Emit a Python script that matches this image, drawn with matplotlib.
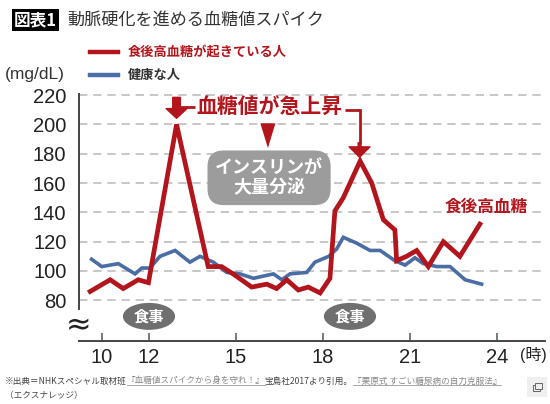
import matplotlib
matplotlib.use('Agg')
import matplotlib.pyplot as plt
from matplotlib.patches import Ellipse, Polygon, Rectangle
from matplotlib.lines import Line2D

plt.rcParams['font.family'] = ['Liberation Sans', 'Noto Sans CJK JP']
JP = ['Noto Sans CJK JP', 'DejaVu Sans']

# 時刻(時)と血糖値(mg/dL)
red_hours = [9.97, 10.66, 11.11, 11.63, 11.98, 12.95, 14.04, 14.5, 14.9, 15.54,
             16.06, 16.4, 16.75, 17.15, 17.49, 17.9, 18.24, 18.41, 18.7, 19.28,
             19.68, 20.08, 20.48, 20.54, 20.88, 21.23, 21.63, 22.15, 22.72, 23.41]
red_values = [86, 94, 88, 94, 92, 200, 103, 103, 98, 89,
              91, 88, 94, 87, 89, 85, 95, 141, 150, 175,
              160, 135, 128, 107, 110, 114, 103, 120, 110, 132]

blue_hours = [10.02, 10.37, 10.94, 11.52, 11.75, 12.03, 12.38, 12.9, 13.41, 13.76,
              14.22, 14.68, 15.14, 15.6, 16.29, 16.58, 16.86, 17.44, 17.72, 18.2,
              18.47, 18.7, 19.16, 19.62, 19.97, 20.48, 20.83, 21.17, 21.46, 21.92,
              22.38, 22.9, 23.47]
blue_values = [108, 103, 105, 98, 102, 102, 110, 114, 106, 110,
               106, 99, 98, 95, 98, 94, 98, 99, 106, 110,
               115, 123, 119, 114, 114, 107, 104, 109, 105, 103,
               103, 94, 91]

x_tick_labels = ['10', '12', '15', '18', '21', '24']
y_ticks = [80, 100, 120, 140, 160, 180, 200, 220]

title_tag = '図表1'
title = '動脈硬化を進める血糖値スパイク'
legend_labels = ['食後高血糖が起きている人', '健康な人']
unit_label = '(mg/dL)'
hour_label = '(時)'
spike_label = '血糖値が急上昇'
insulin_label = 'インスリンが\n大量分泌'
meal_label = '食事'
after_label = '食後高血糖'
foot_parts = [('※出典＝NHKスペシャル取材班', False), ('『血糖値スパイクから身を守れ！』', True),
              ('宝島社2017より引用。', False), ('『栗原式 すごい糖尿病の自力克服法』', True)]
foot_line2 = '（エクスナレッジ）'

RED = '#b3151c'
BLUE = '#4a6da6'
DARK = '#333333'

W, H = 550, 404
fig = plt.figure(figsize=(5.5, 4.04), dpi=100)
ax = fig.add_axes([79 / W, 63 / H, 466 / W, 247.3 / H])

ax.plot(blue_hours, blue_values, color=BLUE, lw=2.6, zorder=3, solid_joinstyle='miter')
ax.plot(red_hours, red_values, color=RED, lw=3.4, zorder=4, solid_joinstyle='miter')

ax.set_xlim(9.586, 25.655)
ax.set_ylim(52.2, 221)

# x tick "10" sits a bit right of its true place in the original
ax.set_xticks([10.38, 12, 15, 18, 21, 24])
ax.set_xticklabels(x_tick_labels)
ax.set_yticks(y_ticks)
ax.tick_params(axis='x', direction='in', length=6, width=1.2, color='#556677',
               pad=5, labelsize=14.5, labelcolor='#222222')
ax.tick_params(axis='y', length=0, pad=9, labelsize=14.5, labelcolor='#222222')
ax.yaxis.grid(True, color='#bdbdbd', lw=1.2, ls=(0, (5, 3.5)))
ax.set_axisbelow(True)
for s in ['top', 'right']:
    ax.spines[s].set_visible(False)
for s in ['left', 'bottom']:
    ax.spines[s].set_color('#444444')
    ax.spines[s].set_linewidth(1.4)

# break mark on y axis
ax.text(0, 63, '≈', transform=ax.get_yaxis_transform(), ha='center', va='center',
        fontsize=22, color='#222222', family='DejaVu Sans', zorder=6,
        bbox=dict(fc='white', ec='none', pad=0.5))

# meal markers
for h in [12, 18.93]:
    ax.add_patch(Ellipse((h, 69), 1.8, 18.4, fc='#6f6f6f', ec='none', zorder=5))
    ax.text(h, 69, meal_label, ha='center', va='center', color='white',
            fontsize=11, weight='bold', family=JP, zorder=6)

# spike annotation
ax.text(16.17, 211.3, spike_label, ha='center', va='center', color=RED,
        fontsize=15, weight='bold', family=JP, zorder=6)
ax.annotate('', xy=(12.95, 204.2), xytext=(12.95, 218.5),
            arrowprops=dict(arrowstyle='simple,head_length=0.7,head_width=1.5,tail_width=0.55',
                            color=RED, shrinkA=0, shrinkB=0), zorder=6)
ax.plot([12.95, 13.6], [211.6, 211.6], color=RED, lw=2, solid_capstyle='butt', zorder=6)
ax.plot([18.76, 19.26, 19.26], [209.7, 209.7, 187], color=RED, lw=2,
        solid_capstyle='butt', solid_joinstyle='miter', zorder=6)
ax.annotate('', xy=(19.26, 177.6), xytext=(19.26, 187.5),
            arrowprops=dict(arrowstyle='simple,head_length=0.75,head_width=1.5,tail_width=0.2',
                            color=RED, shrinkA=0, shrinkB=0), zorder=6)

# insulin box
ax.add_patch(Polygon([(15.84, 200.8), (16.36, 200.8), (16.1, 183.9)], closed=True,
                     fc=RED, ec='none', zorder=6))
ax.text(16.14, 163.6, insulin_label, ha='center', va='center', color='white',
        fontsize=13, weight='bold', family=JP, linespacing=1.1, zorder=6,
        bbox=dict(boxstyle='round,pad=0.42,rounding_size=0.9', fc='#9c9c9c', ec='none'))

ax.text(23.64, 144.2, after_label, ha='center', va='center', color=RED,
        fontsize=12, weight='bold', family=JP, zorder=6)

# unit / hour labels
fig.text(5 / W, 1 - 75 / H, unit_label, ha='left', va='center', fontsize=12.5,
         color=DARK, family=['Liberation Sans', 'Noto Sans CJK JP'])
fig.text(547 / W, 1 - 355 / H, hour_label, ha='right', va='center', fontsize=11.5,
         color='#222222', family=['Liberation Sans', 'Noto Sans CJK JP'])

# legend
for i, (lab, col, tcol) in enumerate(zip(legend_labels, [RED, BLUE], [RED, DARK])):
    y = 1 - (52 + 23 * i) / H
    fig.add_artist(Line2D([90 / W, 118 / W], [y, y], color=col, lw=3.2))
    fig.text(128 / W, y, lab, ha='left', va='center', fontsize=9.5, weight='bold',
             color=tcol, family=JP)

# title
fig.text(14 / W, 1 - 20 / H, title_tag, ha='left', va='center', fontsize=12,
         weight='bold', color='white', family=JP,
         bbox=dict(boxstyle='square,pad=0.12', fc='black', ec='none'))
fig.text(67 / W, 1 - 20 / H, title, ha='left', va='center', fontsize=12.3,
         color=DARK, family=JP)

# footnote
fig.canvas.draw()
r = fig.canvas.get_renderer()
x = 5
for seg, link in foot_parts:
    t = fig.text(x / W, 1 - 381 / H, seg, ha='left', va='center', fontsize=6.2,
                 color='#888888' if link else '#444444', family=JP)
    bb = t.get_window_extent(r)
    if link:
        fig.add_artist(Line2D([bb.x0 / W, bb.x1 / W], [(bb.y0 + 0.5) / H] * 2,
                              color='#999999', lw=0.6))
    x = bb.x1
fig.text(5 / W, 1 - 396 / H, foot_line2, ha='left', va='center', fontsize=6.2,
         color='#444444', family=JP)

# small copy icon
fig.add_artist(Rectangle((527 / W, 1 - 397 / H), 20 / W, 20 / H, fc='#efefef', ec='none'))
fig.add_artist(Rectangle((533 / W, 1 - 391 / H), 7 / W, 6 / H, fc='none', ec='#666666', lw=0.7))
fig.add_artist(Rectangle((535 / W, 1 - 389 / H), 7 / W, 6 / H, fc='#efefef', ec='#666666', lw=0.7))

fig.savefig('out.png', dpi=100)
